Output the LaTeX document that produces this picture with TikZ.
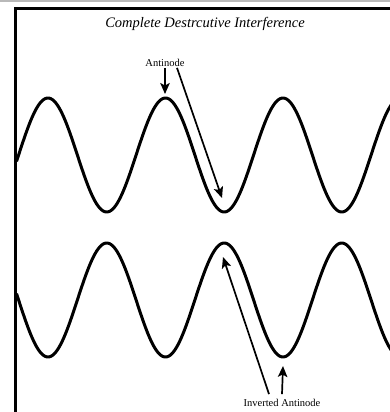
\documentclass[tikz,border=0pt]{standalone}
\usepackage{fontspec}
\setmainfont{Liberation Serif}
\usetikzlibrary{positioning, arrows.meta}
\tikzset{
  frame/.style={line width=3pt},
  wave/.style={line width=3pt, line join=round},
  pointer/.style={line width=1.7pt, -{Stealth[length=11pt, width=9.5pt, inset=2.5pt]}},
  tag/.style={font=\fontsize{10.5}{12}\selectfont, inner sep=1pt},
  titletext/.style={font=\fontsize{14.5}{16}\selectfont\itshape, inner sep=1pt}
}

\begin{document}
\begin{tikzpicture}[x=1pt, y=-1pt]
  \useasboundingbox (0,0) rectangle (390,412);
  \clip (0,0) rectangle (390,412);

  % 1. Marco
  \fill[gray!55] (0,0) rectangle (390,2.5);
  \draw[frame] (15,430) -- (15,8.5) -- (410,8.5);
  \node[titletext] (title) at (205,24) {Complete Destrcutive Interference};

  % 2. Ondas (la de abajo invertida), periodo 117.5
  \foreach \yc/\sg in {155/-1, 300/1} {
    \draw[wave] plot[domain=16.5:392, samples=240] (\x, {\yc + \sg*57*sin(3.06383*(\x-18.6))});
  }

  % 3. Etiquetas y flechas
  \node[tag] (anti) at (165,63) {Antinode};
  \node[tag] (invanti) at (282,403) {Inverted Antinode};
  \coordinate (peakA) at (165,94);
  \coordinate (troughA) at (222,198);
  \coordinate (peakB) at (223,257);
  \coordinate (troughB) at (283,366);

  \draw[pointer] (anti.south) -- (peakA);
  \draw[pointer] ([xshift=12pt]anti.south) -- (troughA);
  \draw[pointer] ([yshift=4pt]invanti.north) -- (troughB);
  \draw[pointer] ([xshift=-13pt, yshift=4pt]invanti.north) -- (peakB);
\end{tikzpicture}
\end{document}
